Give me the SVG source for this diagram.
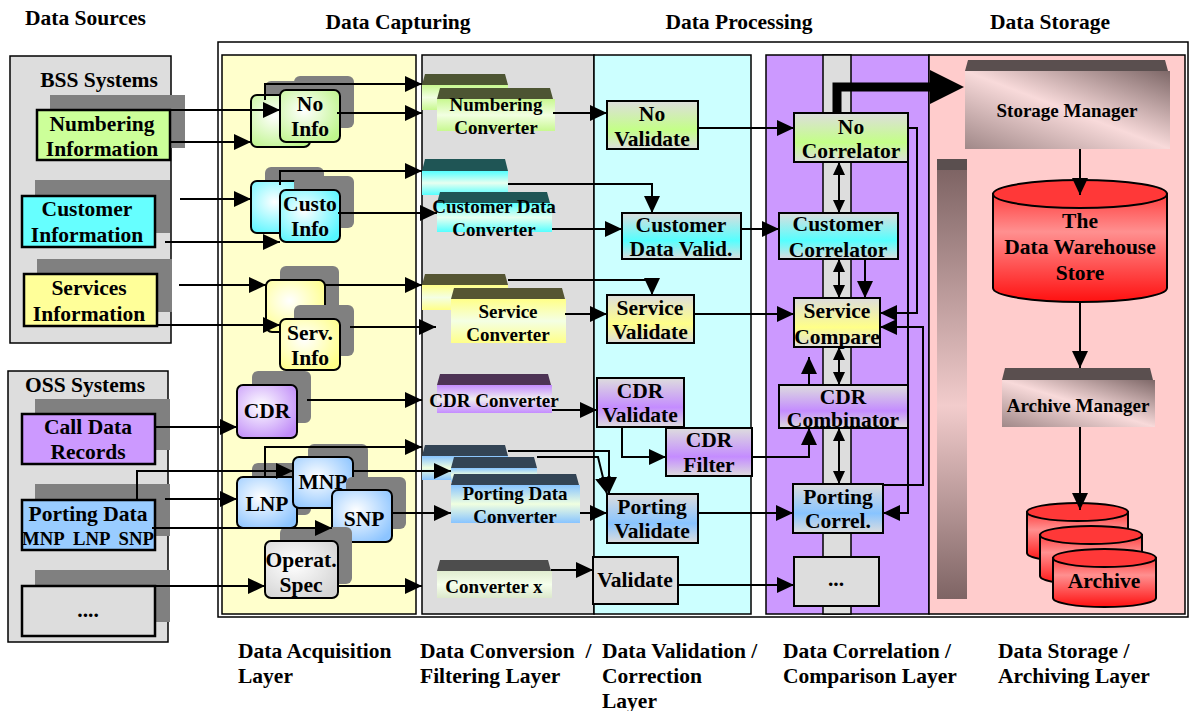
<svg xmlns="http://www.w3.org/2000/svg" width="1191" height="711" viewBox="0 0 1191 711">
<defs>
<style>
.t{font-family:"Liberation Serif","Times New Roman",serif;font-weight:bold;font-size:21.5px;text-anchor:middle;fill:#000}
.s{font-size:19px}
.sm{font-size:19px}
.xs{font-size:18.7px}
.st{text-anchor:start}
.b{stroke:#000;stroke-width:2.5}
.n{stroke:#000;stroke-width:2}
.col{stroke:#000;stroke-width:1.5}
.sh{fill:#808080}
.ln{fill:none;stroke:#000;stroke-width:2}
.ar{marker-end:url(#a)}
.dar{marker-start:url(#ds);marker-end:url(#de)}
</style>
<marker id="a" markerUnits="userSpaceOnUse" markerWidth="17" markerHeight="16" refX="17" refY="8" orient="auto"><path d="M0,0 L17,8 L0,16 z" fill="#000"/></marker>
<marker id="de" markerUnits="userSpaceOnUse" markerWidth="13" markerHeight="12" refX="13" refY="6" orient="auto"><path d="M0,0 L13,6 L0,12 z" fill="#000"/></marker>
<marker id="ds" markerUnits="userSpaceOnUse" markerWidth="13" markerHeight="12" refX="0" refY="6" orient="auto"><path d="M13,0 L0,6 L13,12 z" fill="#000"/></marker>
<radialGradient id="rG" cx="40%" cy="40%" r="70%"><stop offset="0" stop-color="#fff"/><stop offset="1" stop-color="#BFF58C"/></radialGradient>
<radialGradient id="rC" cx="40%" cy="40%" r="70%"><stop offset="0" stop-color="#fff"/><stop offset="1" stop-color="#55F5FF"/></radialGradient>
<radialGradient id="rY" cx="40%" cy="40%" r="70%"><stop offset="0" stop-color="#fff"/><stop offset="1" stop-color="#FFFF88"/></radialGradient>
<radialGradient id="rP" cx="40%" cy="40%" r="70%"><stop offset="0" stop-color="#fff"/><stop offset="1" stop-color="#C08CF8"/></radialGradient>
<radialGradient id="rB" cx="40%" cy="40%" r="70%"><stop offset="0" stop-color="#fff"/><stop offset="1" stop-color="#8CC4FF"/></radialGradient>
<radialGradient id="rX" cx="40%" cy="40%" r="70%"><stop offset="0" stop-color="#fff"/><stop offset="1" stop-color="#D4D4D4"/></radialGradient>
<linearGradient id="vG" x1="0" y1="0" x2="0" y2="1"><stop offset="0" stop-color="#DDDDDD"/><stop offset="0.6" stop-color="#C4FF88"/><stop offset="1" stop-color="#DDDDDD"/></linearGradient>
<linearGradient id="vC" x1="0" y1="0" x2="0" y2="1"><stop offset="0" stop-color="#DDDDDD"/><stop offset="0.6" stop-color="#55FFFF"/><stop offset="1" stop-color="#DDDDDD"/></linearGradient>
<linearGradient id="vY" x1="0" y1="0" x2="0" y2="1"><stop offset="0" stop-color="#DDDDDD"/><stop offset="0.6" stop-color="#FFFF88"/><stop offset="1" stop-color="#DDDDDD"/></linearGradient>
<linearGradient id="vP" x1="0" y1="0" x2="0" y2="1"><stop offset="0" stop-color="#DDDDDD"/><stop offset="0.6" stop-color="#C48CFF"/><stop offset="1" stop-color="#DDDDDD"/></linearGradient>
<linearGradient id="vB" x1="0" y1="0" x2="0" y2="1"><stop offset="0" stop-color="#DDDDDD"/><stop offset="0.6" stop-color="#88C4FF"/><stop offset="1" stop-color="#DDDDDD"/></linearGradient>
<linearGradient id="cG" x1="0" y1="0" x2="0" y2="1"><stop offset="0" stop-color="#C8F890"/><stop offset="0.5" stop-color="#F2FFE2"/><stop offset="1" stop-color="#C8F890"/></linearGradient>
<linearGradient id="cC" x1="0" y1="0" x2="0" y2="1"><stop offset="0" stop-color="#55FFFF"/><stop offset="0.5" stop-color="#E8FFF0"/><stop offset="1" stop-color="#55FFFF"/></linearGradient>
<linearGradient id="cY" x1="0" y1="0" x2="0" y2="1"><stop offset="0" stop-color="#FFFF88"/><stop offset="0.5" stop-color="#F4FFE4"/><stop offset="1" stop-color="#FFFF88"/></linearGradient>
<linearGradient id="cP" x1="0" y1="0" x2="0" y2="1"><stop offset="0" stop-color="#C48CFF"/><stop offset="0.5" stop-color="#F0F0F0"/><stop offset="1" stop-color="#C48CFF"/></linearGradient>
<linearGradient id="cB" x1="0" y1="0" x2="0" y2="1"><stop offset="0" stop-color="#88C4FF"/><stop offset="0.5" stop-color="#F0FFE0"/><stop offset="1" stop-color="#88C4FF"/></linearGradient>
<linearGradient id="cX" x1="0" y1="0" x2="0" y2="1"><stop offset="0" stop-color="#E0ECD0"/><stop offset="0.5" stop-color="#F6FFEC"/><stop offset="1" stop-color="#DCE8CC"/></linearGradient>
<linearGradient id="sm" x1="1" y1="0" x2="0" y2="1"><stop offset="0" stop-color="#7E6868"/><stop offset="0.5" stop-color="#F8DADA"/><stop offset="1" stop-color="#A08888"/></linearGradient>
<linearGradient id="bar" x1="0" y1="0" x2="0" y2="1"><stop offset="0" stop-color="#7E6464"/><stop offset="0.55" stop-color="#F2CCCC"/><stop offset="1" stop-color="#7E6464"/></linearGradient>
<linearGradient id="cyl" x1="0" y1="0" x2="0" y2="1"><stop offset="0" stop-color="#FF4040"/><stop offset="0.35" stop-color="#FF9090"/><stop offset="1" stop-color="#FF1010"/></linearGradient>
</defs>

<rect width="1191" height="711" fill="#fff"/>

<g id="headings">
<text class="t st" x="25" y="25">Data Sources</text>
<text class="t" x="398" y="29">Data Capturing</text>
<text class="t" x="739" y="29">Data Processing</text>
<text class="t" x="1050" y="29">Data Storage</text>
</g>

<g id="frame">
<rect class="col" x="218" y="42" width="970" height="575" fill="#fff"/>
<rect class="col" x="222" y="55" width="194" height="559" fill="#FFFFCC"/>
<rect class="col" x="422" y="55" width="172" height="559" fill="#DDDDDD"/>
<rect class="col" x="594" y="55" width="157" height="559" fill="#CCFFFF"/>
<rect class="col" x="766" y="55" width="163" height="559" fill="#CC99FF"/>
<rect class="col" x="823" y="55" width="28" height="559" fill="#DDDDDD"/>
<rect class="col" x="929" y="55" width="256" height="559" fill="#FFCCCC"/>
</g>

<g id="bss">
<rect class="col" x="10" y="56" width="161" height="287" fill="#DDDDDD"/>
<text class="t" x="99" y="87">BSS Systems</text>
</g>
<g id="numbering-information">
<rect class="sh" x="50" y="95" width="135" height="53"/>
<rect class="b" x="37" y="110" width="133" height="50" fill="#CCFF99"/>
<text class="t" x="102" y="131">Numbering</text>
<text class="t" x="102" y="156">Information</text>
</g>
<g id="customer-information">
<rect class="sh" x="35" y="180" width="135" height="53"/>
<rect class="b" x="22" y="196" width="133" height="51" fill="#66FFFF"/>
<text class="t" x="87" y="216">Customer</text>
<text class="t" x="87" y="242">Information</text>
</g>
<g id="services-information">
<rect class="sh" x="37" y="259" width="135" height="53"/>
<rect class="b" x="24" y="274" width="133" height="52" fill="#FFFF99"/>
<text class="t" x="89" y="295">Services</text>
<text class="t" x="89" y="321">Information</text>
</g>

<g id="oss">
<rect class="col" x="8" y="371" width="160" height="271" fill="#DDDDDD"/>
<text class="t" x="85" y="392">OSS Systems</text>
</g>
<g id="call-data-records">
<rect class="sh" x="35" y="399" width="135" height="51"/>
<rect class="b" x="22" y="414" width="133" height="50" fill="#CC99FF"/>
<text class="t" x="88" y="434">Call Data</text>
<text class="t" x="88" y="459">Records</text>
</g>
<g id="porting-data">
<rect class="sh" x="35" y="484" width="135" height="52"/>
<rect class="b" x="22" y="500" width="133" height="50" fill="#99CCFF"/>
<text class="t" x="88" y="521">Porting Data</text>
<text class="t xs" x="88" y="545" xml:space="preserve">MNP  LNP  SNP</text>
</g>
<g id="other-source">
<rect class="sh" x="35" y="570" width="135" height="52"/>
<rect class="b" x="22" y="586" width="133" height="50" fill="#DDDDDD"/>
<text class="t" x="88" y="617">....</text>
</g>

<g id="no-info">
<rect class="sh" x="265" y="81" width="59" height="52" rx="6"/>
<rect class="n" x="251" y="95" width="59" height="52" rx="6" fill="url(#rG)"/>
<rect class="sh" x="294" y="76" width="60" height="52" rx="6"/>
<rect class="n" x="280" y="90" width="60" height="52" rx="6" fill="url(#rG)"/>
<text class="t" x="310" y="111">No</text>
<text class="t" x="310" y="136">Info</text>
</g>
<g id="custo-info">
<rect class="sh" x="265" y="167" width="59" height="52" rx="6"/>
<rect class="n" x="251" y="181" width="59" height="52" rx="6" fill="url(#rC)"/>
<rect class="sh" x="294" y="176" width="60" height="52" rx="6"/>
<rect class="n" x="280" y="190" width="60" height="52" rx="6" fill="url(#rC)"/>
<text class="t" x="310" y="211">Custo</text>
<text class="t" x="310" y="236">Info</text>
</g>
<g id="serv-info">
<rect class="sh" x="280" y="266" width="59" height="52" rx="6"/>
<rect class="n" x="266" y="280" width="59" height="52" rx="6" fill="url(#rY)"/>
<rect class="sh" x="294" y="305" width="60" height="51" rx="6"/>
<rect class="n" x="280" y="319" width="60" height="51" rx="6" fill="url(#rY)"/>
<text class="t" x="310" y="340">Serv.</text>
<text class="t" x="310" y="365">Info</text>
</g>
<g id="cdr">
<rect class="sh" x="252" y="371" width="59" height="52" rx="6"/>
<rect class="n" x="237" y="385" width="60" height="53" rx="6" fill="url(#rP)"/>
<text class="t" x="267" y="418">CDR</text>
</g>
<g id="lnp">
<rect class="sh" x="252" y="463" width="59" height="52" rx="6"/>
<rect class="n" x="237" y="477" width="60" height="51" rx="6" fill="url(#rB)"/>
<text class="t" x="267" y="511">LNP</text>
</g>
<g id="mnp">
<rect class="sh" x="308" y="444" width="60" height="51" rx="6"/>
<rect class="n" x="293" y="457" width="60" height="51" rx="6" fill="url(#rB)"/>
<text class="t" x="323" y="489">MNP</text>
</g>
<g id="snp">
<rect class="sh" x="346" y="477" width="60" height="52" rx="6"/>
<rect class="n" x="332" y="490" width="60" height="52" rx="6" fill="url(#rB)"/>
<text class="t" x="364" y="526">SNP</text>
</g>
<g id="operat-spec">
<rect class="sh" x="280" y="527" width="72" height="57" rx="6"/>
<rect class="n" x="265" y="541" width="73" height="57" rx="6" fill="url(#rX)"/>
<text class="t" x="301" y="567">Operat.</text>
<text class="t" x="301" y="592">Spec</text>
</g>

<g id="numbering-converter">
<polygon points="425,74 505,74 508,85 422,85" fill="#4D5533"/>
<rect x="422" y="85" width="86" height="25" fill="url(#cG)"/>
<polygon points="440,88 550,88 553,99 437,99" fill="#4D5533"/>
<rect x="437" y="99" width="118" height="32" fill="url(#cG)"/>
<text class="t s" x="496" y="111">Numbering</text>
<text class="t s" x="496" y="134">Converter</text>
</g>
<g id="customer-data-converter">
<polygon points="425,159 505,159 508,171 422,171" fill="#1F5555"/>
<rect x="422" y="171" width="86" height="24" fill="url(#cC)"/>
<polygon points="440,192 547,192 550,203 437,203" fill="#1F5555"/>
<rect x="437" y="203" width="115" height="29" fill="url(#cC)"/>
<text class="t s" x="494" y="213">Customer Data</text>
<text class="t s" x="494" y="236">Converter</text>
</g>
<g id="service-converter">
<polygon points="425,274 505,274 508,285 422,285" fill="#555533"/>
<rect x="422" y="285" width="86" height="25" fill="url(#cY)"/>
<polygon points="454,288 562,288 565,299 451,299" fill="#555533"/>
<rect x="451" y="299" width="115" height="44" fill="url(#cY)"/>
<text class="t s" x="508" y="318">Service</text>
<text class="t s" x="508" y="341">Converter</text>
</g>
<g id="cdr-converter">
<polygon points="440,374 548,374 551,385 437,385" fill="#4D3355"/>
<rect x="437" y="385" width="115" height="28" fill="url(#cP)"/>
<text class="t s" x="494" y="407">CDR Converter</text>
</g>
<g id="porting-data-converter">
<polygon points="425,445 505,445 508,456 422,456" fill="#334455"/>
<rect x="422" y="456" width="86" height="24" fill="url(#cB)"/>
<polygon points="454,457 534,457 537,468 451,468" fill="#334455"/>
<rect x="451" y="468" width="86" height="14" fill="url(#cB)"/>
<polygon points="454,474 576,474 579,485 451,485" fill="#334455"/>
<rect x="451" y="485" width="129" height="38" fill="url(#cB)"/>
<text class="t s" x="515" y="500">Porting Data</text>
<text class="t s" x="515" y="523">Converter</text>
</g>
<g id="converter-x">
<polygon points="440,560 548,560 551,571 437,571" fill="#4D4D4D"/>
<rect x="437" y="571" width="115" height="27" fill="url(#cX)"/>
<text class="t s" x="494" y="593">Converter x</text>
</g>

<g id="no-validate">
<rect class="n" x="607" y="101" width="91" height="48" fill="url(#vG)"/>
<text class="t" x="652" y="121">No</text>
<text class="t" x="652" y="146">Validate</text>
</g>
<g id="customer-data-valid">
<rect class="n" x="622" y="213" width="119" height="46" fill="url(#vC)"/>
<text class="t" x="681" y="232">Customer</text>
<text class="t" x="681" y="256">Data Valid.</text>
</g>
<g id="service-validate">
<rect class="n" x="607" y="295" width="87" height="48" fill="url(#vY)"/>
<text class="t" x="650" y="315">Service</text>
<text class="t" x="650" y="339">Validate</text>
</g>
<g id="cdr-validate">
<rect class="n" x="597" y="378" width="87" height="49" fill="url(#vP)"/>
<text class="t" x="640" y="398">CDR</text>
<text class="t" x="640" y="422">Validate</text>
</g>
<g id="cdr-filter">
<rect class="n" x="666" y="428" width="86" height="48" fill="url(#vP)"/>
<text class="t" x="709" y="447">CDR</text>
<text class="t" x="709" y="472">Filter</text>
</g>
<g id="porting-validate">
<rect class="n" x="607" y="494" width="91" height="49" fill="url(#vB)"/>
<text class="t" x="652" y="514">Porting</text>
<text class="t" x="652" y="538">Validate</text>
</g>
<g id="validate">
<rect class="n" x="593" y="557" width="85" height="47" fill="#DDDDDD"/>
<text class="t" x="635" y="587">Validate</text>
</g>

<g id="no-correlator">
<rect class="n" x="794" y="113" width="114" height="49" fill="url(#vG)"/>
<text class="t" x="851" y="134">No</text>
<text class="t" x="851" y="158">Correlator</text>
</g>
<g id="customer-correlator">
<rect class="n" x="779" y="213" width="119" height="46" fill="url(#vC)"/>
<text class="t" x="838" y="231">Customer</text>
<text class="t" x="838" y="257">Correlator</text>
</g>
<g id="service-compare">
<rect class="n" x="794" y="298" width="86" height="49" fill="url(#vY)"/>
<text class="t" x="837" y="318">Service</text>
<text class="t" x="837" y="344">Compare</text>
</g>
<g id="cdr-combinator">
<rect class="n" x="779" y="385" width="129" height="43" fill="url(#vP)"/>
<text class="t" x="843" y="404">CDR</text>
<text class="t" x="843" y="427">Combinator</text>
</g>
<g id="porting-correl">
<rect class="n" x="793" y="484" width="90" height="49" fill="url(#vB)"/>
<text class="t" x="838" y="504">Porting</text>
<text class="t" x="838" y="528">Correl.</text>
</g>
<g id="other-correl">
<rect class="n" x="794" y="557" width="85" height="49" fill="#DDDDDD"/>
<text class="t" x="836" y="586">...</text>
</g>

<g id="storage-manager">
<polygon points="968,60 1165,60 1168,71 965,71" fill="#5A4F4F"/>
<rect x="965" y="71" width="205" height="78" fill="url(#sm)"/>
<text class="t sm" x="1067" y="117">Storage Manager</text>
</g>
<g id="storage-bar">
<rect x="937" y="170" width="30" height="429" fill="url(#bar)"/>
<rect x="937" y="159" width="30" height="11" fill="#5A4F4F"/>
</g>
<g id="data-warehouse">
<path d="M993,194 V288 A87,14 0 0 0 1167,288 V194 Z" fill="url(#cyl)" stroke="#000" stroke-width="2"/>
<ellipse cx="1080" cy="194" rx="87" ry="14" fill="#FF3838" stroke="#000" stroke-width="2"/>
<text class="t" x="1080" y="228">The</text>
<text class="t" x="1080" y="254">Data Warehouse</text>
<text class="t" x="1080" y="280">Store</text>
</g>
<g id="archive-manager">
<polygon points="1005,368 1150,368 1153,380 1002,380" fill="#5A4F4F"/>
<rect x="1002" y="380" width="153" height="47" fill="url(#sm)"/>
<text class="t sm" x="1078" y="412">Archive Manager</text>
</g>
<g id="archive">
<path d="M1027,512 V553 A50.5,9 0 0 0 1128,553 V512 Z" fill="url(#cyl)" stroke="#000" stroke-width="2"/>
<ellipse cx="1077.5" cy="512" rx="50.5" ry="9" fill="#FF3838" stroke="#000" stroke-width="2"/>
<path d="M1040,535 V576 A51,9 0 0 0 1142,576 V535 Z" fill="url(#cyl)" stroke="#000" stroke-width="2"/>
<ellipse cx="1091" cy="535" rx="51" ry="9" fill="#FF3838" stroke="#000" stroke-width="2"/>
<path d="M1053,558 V598 A51.5,9 0 0 0 1156,598 V558 Z" fill="url(#cyl)" stroke="#000" stroke-width="2"/>
<ellipse cx="1104.5" cy="558" rx="51.5" ry="9" fill="#FF3838" stroke="#000" stroke-width="2"/>
<text class="t" x="1104" y="588">Archive</text>
</g>

<g id="connectors" class="ln">
<path class="ar" d="M170,110 H280"/>
<path class="ar" d="M170,142 H251"/>
<path class="ar" d="M180,199 H251"/>
<path class="ar" d="M165,242 H280"/>
<path class="ar" d="M179,285 H266"/>
<path class="ar" d="M157,325 H280"/>
<path class="ar" d="M155,427 H237"/>
<path class="ar" d="M137,500 V471 H293"/>
<path class="ar" d="M165,499 H237"/>
<path class="ar" d="M152,528 H332"/>
<path class="ar" d="M155,586 H265"/>
<path class="ar" d="M265,100 V84 H422"/>
<path class="ar" d="M337,113 H422"/>
<path class="ar" d="M553,113 H607"/>
<path class="ar" d="M698,128 H794"/>
<path class="ar" d="M280,185 V171 H422"/>
<path class="ar" d="M508,184 H652 V213"/>
<path class="ar" d="M338,213 H437"/>
<path class="ar" d="M552,229 H622"/>
<path class="ar" d="M741,229 H779"/>
<path class="ar" d="M325,285 H422"/>
<path class="ar" d="M508,280 H652 V295"/>
<path class="ar" d="M350,327 H436"/>
<path class="ar" d="M565,314 H607"/>
<path class="ar" d="M694,314 H794"/>
<path class="ar" d="M307,400 H422"/>
<path class="ar" d="M552,410 H597"/>
<path class="ar" d="M622,427 V457 H666"/>
<path class="ar" d="M752,457 H809 V428"/>
<path class="ar" d="M809,385 V357"/>
<path class="ar" d="M265,477 V447 H422"/>
<path class="ar" d="M353,471 H451"/>
<path class="ar" d="M392,513 H451"/>
<path class="ar" d="M508,451 H609 V494"/>
<path class="ar" d="M537,457 H598 L607,494"/>
<path class="ar" d="M580,513 H607"/>
<path class="ar" d="M698,513 H793"/>
<path class="ar" d="M338,586 H422"/>
<path class="ar" d="M551,570 H593"/>
<path class="ar" d="M678,585 H794"/>
<path class="dar" d="M839,162 V213"/>
<path class="dar" d="M839,259 V298"/>
<path class="dar" d="M839,347 V385"/>
<path class="dar" d="M839,428 V484"/>
<path class="ar" d="M865,259 V298"/>
<path class="ar" d="M908,128 H917 V313 H880"/>
<path class="ar" d="M908,128 V513 H883"/>
<path class="ar" d="M883,485 H923 V327 H880"/>
<path d="M837,113 V87 H932" stroke-width="9"/>
<polygon points="930,70 964,87 930,104" fill="#000" stroke="none"/>
<path class="ar" d="M1080,149 V195"/>
<path class="ar" d="M1080,302 V368"/>
<path class="ar" d="M1080,427 V510"/>
</g>

<g id="layer-labels">
<text class="t st" x="238" y="658">Data Acquisition</text>
<text class="t st" x="238" y="683">Layer</text>
<text class="t st" x="420" y="658" xml:space="preserve">Data Conversion  /</text>
<text class="t st" x="420" y="683">Filtering Layer</text>
<text class="t st" x="602" y="658">Data Validation /</text>
<text class="t st" x="602" y="683">Correction</text>
<text class="t st" x="602" y="708">Layer</text>
<text class="t st" x="783" y="658">Data Correlation /</text>
<text class="t st" x="783" y="683">Comparison Layer</text>
<text class="t st" x="998" y="658">Data Storage /</text>
<text class="t st" x="998" y="683">Archiving Layer</text>
</g>
</svg>
